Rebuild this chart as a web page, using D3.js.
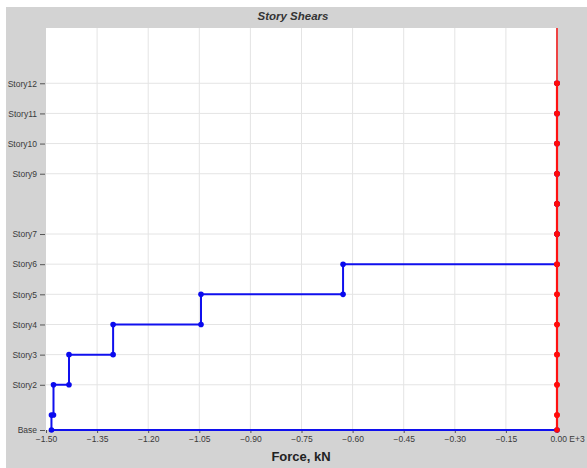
<!DOCTYPE html>
<html>
<head>
<meta charset="utf-8">
<script src="https://cdn.jsdelivr.net/npm/d3@7"></script>
<style>
  html, body { margin: 0; padding: 0; background: #ffffff; }
  svg { display: block; font-family: "Liberation Sans", Arial, sans-serif; }
</style>
</head>
<body>
<svg id="chart" width="587" height="468"></svg>
<script>
// ---- data ----
const stories = ["Base","Story1","Story2","Story3","Story4","Story5","Story6","Story7","Story8","Story9","Story10","Story11","Story12"];
const elevations = [0, 1.5, 4.5, 7.5, 10.5, 13.5, 16.5, 19.5, 22.5, 25.5, 28.5, 31.5, 34.5];
// story shear (x 1E+3 kN) for Story1..Story12
const shearX = [-1.484, -1.478, -1.4325, -1.303, -1.045, -0.628, 0, 0, 0, 0, 0, 0];
const shearY = [0, 0, 0, 0, 0, 0, 0, 0, 0, 0, 0, 0];
const xTickValues = [-1.50, -1.35, -1.20, -1.05, -0.90, -0.75, -0.60, -0.45, -0.30, -0.15, 0.00];
const yTickLabels = ["Base","Story2","Story3","Story4","Story5","Story6","Story7","Story9","Story10","Story11","Story12"];

// ---- layout ----
const svg = d3.select("#chart");
const L = 46, R = 557, T = 28, B = 430;

svg.append("rect").attr("x", 6).attr("y", 7).attr("width", 581).attr("height", 461).attr("fill", "#d3d3d3");
svg.append("rect").attr("x", L).attr("y", T).attr("width", R - L).attr("height", B - T).attr("fill", "#ffffff");

const x = d3.scaleLinear().domain([-1.5, 0]).range([L, R]);
const y = d3.scaleLinear().domain([0, 40]).range([B, T]);
const elevOf = name => elevations[stories.indexOf(name)];

// grid
const grid = svg.append("g");
grid.selectAll("line.v").data(xTickValues.slice(1, -1)).enter().append("line")
  .attr("x1", d => x(d)).attr("x2", d => x(d)).attr("y1", T).attr("y2", B)
  .attr("stroke", "#e4e4e4").attr("stroke-width", 1);
grid.selectAll("line.h").data(yTickLabels.slice(1)).enter().append("line")
  .attr("x1", L).attr("x2", R).attr("y1", d => y(elevOf(d))).attr("y2", d => y(elevOf(d)))
  .attr("stroke", "#e4e4e4").attr("stroke-width", 1);

// axes
const xAxis = d3.axisBottom(x).tickValues(xTickValues).tickSize(3).tickPadding(3)
  .tickFormat((d, i) => d3.format(".2f")(d) + (i === xTickValues.length - 1 ? " E+3" : ""));
const gx = svg.append("g").attr("transform", `translate(0,${B})`).call(xAxis);
gx.select(".domain").remove();
gx.selectAll(".tick line").attr("stroke", "#555");
gx.selectAll(".tick text").attr("fill", "#3a3a3a").attr("font-size", 8.5).style("font-family", "Liberation Sans, Arial, sans-serif");
gx.selectAll(".tick").filter((d, i) => i === xTickValues.length - 1).select("text").attr("dx", 10);

const yAxis = d3.axisLeft(y).tickValues(yTickLabels.map(elevOf)).tickSize(5).tickPadding(3)
  .tickFormat((d, i) => yTickLabels[i]);
const gy = svg.append("g").attr("transform", `translate(${L - 1},0)`).call(yAxis);
gy.select(".domain").remove();
gy.selectAll(".tick line").attr("stroke", "#555");
gy.selectAll(".tick text").attr("fill", "#3a3a3a").attr("font-size", 8.5).style("font-family", "Liberation Sans, Arial, sans-serif");

// series X (blue step)
const ptsX = [];
for (let k = 12; k >= 1; k--) {
  const above = k < 12 ? shearX[k] : 0;
  ptsX.push([above, elevations[k]]);
  ptsX.push([shearX[k - 1], elevations[k]]);
}
ptsX.push([shearX[0], elevations[0]]);
ptsX.push([0, elevations[0]]);

const line = d3.line().x(d => x(d[0])).y(d => y(d[1]));
svg.append("path").datum(ptsX).attr("d", line).attr("fill", "none")
  .attr("stroke", "#1010ee").attr("stroke-width", 2);
svg.selectAll("circle.bx").data(ptsX).enter().append("circle")
  .attr("cx", d => x(d[0])).attr("cy", d => y(d[1])).attr("r", 2.8).attr("fill", "#0a0aee");

// series Y (red)
const ptsY = [];
for (let k = 12; k >= 1; k--) {
  const above = k < 12 ? shearY[k] : 0;
  ptsY.push([above, elevations[k]]);
  ptsY.push([shearY[k - 1], elevations[k]]);
}
ptsY.push([shearY[0], elevations[0]]);
svg.append("line").attr("x1", x(0)).attr("x2", x(0)).attr("y1", T).attr("y2", y(elevations[12]))
  .attr("stroke", "#ee4444").attr("stroke-width", 2);
svg.append("path").datum(ptsY).attr("d", line).attr("fill", "none")
  .attr("stroke", "#ff1111").attr("stroke-width", 2.2);
svg.selectAll("circle.by").data(ptsY).enter().append("circle")
  .attr("cx", d => x(d[0])).attr("cy", d => y(d[1])).attr("r", 2.8).attr("fill", "#ff0a0a");

// titles
svg.append("text").attr("x", 293).attr("y", 20).attr("text-anchor", "middle")
  .attr("font-size", 11.5).attr("font-weight", "bold").attr("font-style", "italic").attr("fill", "#333")
  .text("Story Shears");
svg.append("text").attr("x", 301).attr("y", 461).attr("text-anchor", "middle")
  .attr("font-size", 13).attr("font-weight", "bold").attr("fill", "#222")
  .text("Force, kN");
</script>
</body>
</html>
